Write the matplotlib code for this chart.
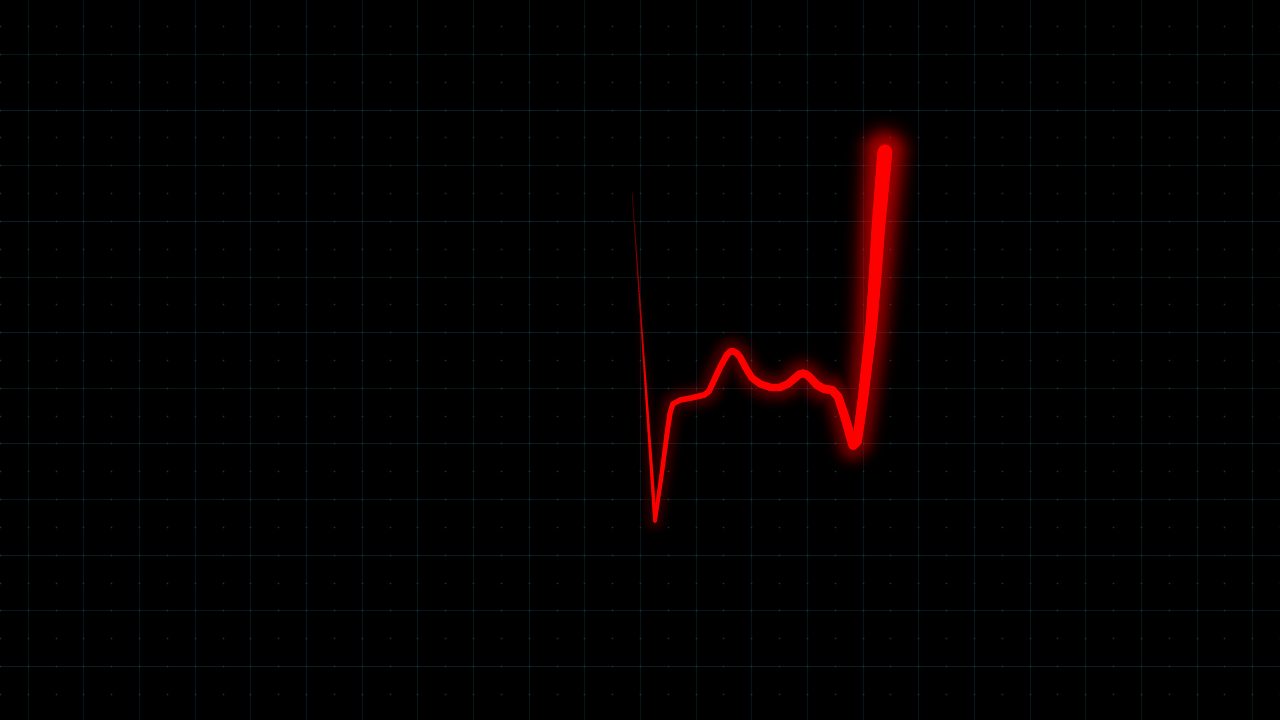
import matplotlib
matplotlib.use("Agg")
import matplotlib.pyplot as plt
from matplotlib.collections import LineCollection
import numpy as np

# trace, in grid units (1 unit = one grid square)
trace_t = [-0.14, 0.27, 0.38, 0.49, 0.54, 0.59, 0.72, 0.93, 1.15, 1.24, 1.31,
           1.44, 1.56, 1.62, 1.67, 1.74, 1.80, 1.90, 2.01, 2.16, 2.34, 2.52,
           2.66, 2.79, 2.86, 2.93, 2.99, 3.05, 3.18, 3.31, 3.45, 3.56, 3.68,
           3.77, 3.83, 3.90, 3.95, 4.01, 4.08, 4.15, 4.22, 4.28, 4.40]
trace_v = [3.00, -2.89, -2.12, -1.29, -0.95, -0.79, -0.72, -0.68, -0.63, -0.56,
           -0.41, -0.13, 0.09, 0.15, 0.16, 0.12, 0.05, -0.14, -0.32, -0.43,
           -0.49, -0.49, -0.43, -0.32, -0.26, -0.24, -0.26, -0.31, -0.45,
           -0.52, -0.54, -0.66, -1.02, -1.33, -1.53, -1.46, -1.11, -0.66,
           -0.05, 0.54, 1.44, 2.34, 3.74]

grid_x = np.arange(-11, 12)              # vertical grid lines
grid_y = np.arange(-5.5, 6.0, 1.0)       # horizontal grid lines
bright_y = [4.5, 2.5, 0.5, -1.5, -3.5, -5.5]

W, H, DPI = 1280, 720, 100
XL = (-11.5, 11.5)
YL = (-6.47, 6.47)
ppu = W / (XL[1] - XL[0])                # pixels per unit
pt = 72.0 / DPI                          # points per pixel

fig = plt.figure(figsize=(W / DPI, H / DPI), dpi=DPI, facecolor="black")
ax = fig.add_axes([0, 0, 1, 1])
ax.set_facecolor("black")
ax.set_xlim(*XL)
ax.set_ylim(*YL)
ax.axis("off")

# grid
for gx in grid_x:
    ax.axvline(gx, color="#07141a", lw=0.8, zorder=1)
for gy in grid_y:
    c = "#0a1c21" if gy in bright_y else "#07141a"
    ax.axhline(gy, color=c, lw=0.8, zorder=1)
dx, dy = np.meshgrid(np.arange(-11.5, 11.6, 0.5), np.arange(-6.0, 6.1, 0.5))
ax.scatter(dx.ravel(), dy.ravel(), s=1.5, color="#17383a", lw=0, zorder=1)

# arc length fraction along the trace, in pixels
t = np.array(trace_t)
v = np.array(trace_v)
seg_len = np.hypot(np.diff(t), np.diff(v)) * ppu
cum = np.concatenate([[0], np.cumsum(seg_len)])
total = cum[-1]

def width_px(f):
    return 0.8 + 14.0 * f ** 1.4

def shade(f):
    return np.clip(0.3 + 0.7 * f / 0.2, 0, 1)

# glow as a soft image around the trace
gx_px = np.arange(0, W, 2) + 1.0
gy_px = np.arange(0, H, 2) + 1.0
PX, PY = np.meshgrid(gx_px, gy_px)
X = XL[0] + PX / ppu
Y = YL[0] + PY / ppu
glow = np.zeros_like(X)
for i in range(len(t) - 1):
    ax0, ay0, bx, by = t[i], v[i], t[i + 1], v[i + 1]
    ddx, ddy = bx - ax0, by - ay0
    L2 = ddx * ddx + ddy * ddy
    u = np.clip(((X - ax0) * ddx + (Y - ay0) * ddy) / L2, 0, 1)
    d = np.hypot(X - (ax0 + u * ddx), Y - (ay0 + u * ddy)) * ppu
    f = (cum[i] + u * seg_len[i]) / total
    w = width_px(f)
    amp = 0.6 * f ** 1.2
    sig = 3.0 + 8.0 * f
    g = amp * np.exp(-np.maximum(d - w / 2, 0) ** 2 / (2 * sig ** 2))
    glow = np.maximum(glow, g)
rgba = np.zeros(glow.shape + (4,))
rgba[..., 0] = 1.0
rgba[..., 3] = np.clip(glow, 0, 1)
ax.imshow(rgba, extent=(XL[0], XL[1], YL[0], YL[1]), origin="lower",
          interpolation="bilinear", aspect="auto", zorder=2)

# core line, split into short pieces so the width can grow along it
segs, lws, cols = [], [], []
for i in range(len(t) - 1):
    n = max(1, int(np.ceil(seg_len[i] / 3)))
    for k in range(n):
        a = k / n
        b = (k + 1) / n
        p0 = (t[i] + a * (t[i + 1] - t[i]), v[i] + a * (v[i + 1] - v[i]))
        p1 = (t[i] + b * (t[i + 1] - t[i]), v[i] + b * (v[i + 1] - v[i]))
        f = (cum[i] + (a + b) / 2 * seg_len[i]) / total
        segs.append([p0, p1])
        lws.append(width_px(f) * pt)
        s = shade(f)
        cols.append((s, 0, 0, 1))
lc = LineCollection(segs, linewidths=lws, colors=cols, capstyle="round",
                    joinstyle="round", zorder=3)
ax.add_collection(lc)

fig.savefig("out.png", dpi=DPI, facecolor="black")
